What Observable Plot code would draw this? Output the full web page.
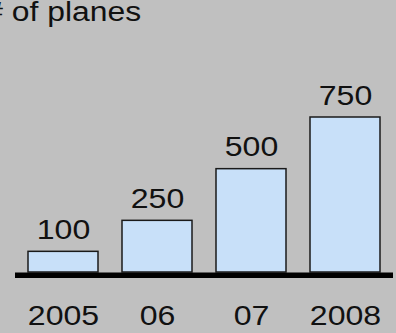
<!DOCTYPE html>
<html>
<head>
<meta charset="utf-8">
<script src="https://cdn.jsdelivr.net/npm/d3@7"></script>
<script src="https://cdn.jsdelivr.net/npm/@observablehq/plot@0.6"></script>
<style>
  html, body { margin: 0; padding: 0; background: #c0c0c0; overflow: hidden; }
  #chart svg { display: block; background: #c0c0c0; }
</style>
</head>
<body>
<div id="chart"></div>
<script>
// Planes delivered per year
const titleText = "# of planes";
const years = ["2005", "2006", "2007", "2008"];
const tickLabels = ["2005", "06", "07", "2008"];
const planes = [100, 250, 500, 750];

const data = years.map((year, i) => ({year, planes: planes[i]}));

const chart = Plot.plot({
  width: 396,
  height: 333,
  marginLeft: 15,
  marginRight: 3,
  marginTop: 117,
  marginBottom: 61,
  style: {
    background: "#c0c0c0",
    fontFamily: "'Liberation Sans', Arial, sans-serif",
    fontSize: "28.5px",
    color: "#111"
  },
  x: {domain: years, paddingInner: 0.26, paddingOuter: 0.128, axis: null},
  y: {domain: [0, 750], axis: null},
  marks: [
    Plot.barY(data, {
      x: "year",
      y: "planes",
      fill: "#c8e0f9",
      stroke: "#1a1a1a",
      strokeWidth: 1.5
    }),
    Plot.ruleY([0], {stroke: "#000", strokeWidth: 5.5, dy: 2.75}),
    Plot.text(data, {
      x: "year",
      y: "planes",
      text: d => String(d.planes),
      lineAnchor: "bottom",
      dy: -13,
      fill: "#111"
    }),
    Plot.axisX({
      label: null,
      tickSize: 0,
      tickPadding: 32,
      tickFormat: d => tickLabels[years.indexOf(d)],
      fill: "#111"
    }),
    Plot.text([titleText], {
      frameAnchor: "top-left",
      textAnchor: "start",
      lineAnchor: "bottom",
      dx: -30.2,
      dy: -96.3,
      fontSize: 27,
      fill: "#111"
    })
  ]
});

document.getElementById("chart").append(chart);

// Widen the lettering horizontally, keeping each label's anchor in place
chart.querySelectorAll("text").forEach(t => {
  const factor = t.textContent === titleText ? 1.18 : 1.125;
  const len = t.getComputedTextLength();
  if (len > 0) {
    t.setAttribute("textLength", (len * factor).toFixed(2));
    t.setAttribute("lengthAdjust", "spacingAndGlyphs");
  }
});
</script>
</body>
</html>
